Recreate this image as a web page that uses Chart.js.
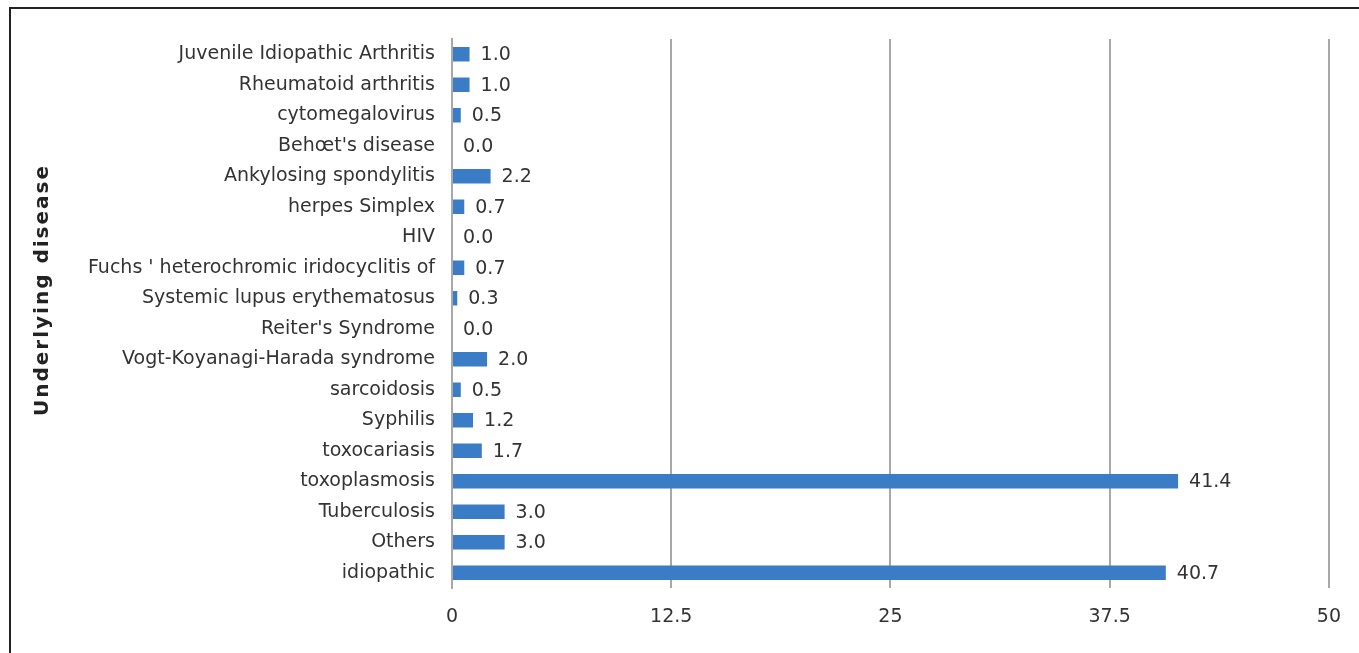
<!DOCTYPE html>
<html>
<head>
<meta charset="utf-8">
<script src="https://cdn.jsdelivr.net/npm/chart.js@4/dist/chart.umd.min.js"></script>
<style>
  html, body { margin: 0; padding: 0; background: #fff; }
  .frame {
    position: absolute; left: 9px; top: 7px; width: 1350px; height: 646px;
    border-top: 2px solid #222; border-left: 2px solid #222;
  }
  .chartbox { position: absolute; left: 0; top: 0; width: 1359px; height: 653px; }
</style>
</head>
<body>
<div class="frame"></div>
<div class="chartbox"><canvas id="myChart" width="1359" height="653"></canvas></div>
<script>
const labels = [
  "Juvenile Idiopathic Arthritis",
  "Rheumatoid arthritis",
  "cytomegalovirus",
  "Behœt's disease",
  "Ankylosing spondylitis",
  "herpes Simplex",
  "HIV",
  "Fuchs ' heterochromic iridocyclitis of",
  "Systemic lupus erythematosus",
  "Reiter's Syndrome",
  "Vogt-Koyanagi-Harada syndrome",
  "sarcoidosis",
  "Syphilis",
  "toxocariasis",
  "toxoplasmosis",
  "Tuberculosis",
  "Others",
  "idiopathic",
];
const values = [1.0, 1.0, 0.5, 0.0, 2.2, 0.7, 0.0, 0.7, 0.3, 0.0, 2.0, 0.5, 1.2, 1.7, 41.4, 3.0, 3.0, 40.7];
const xTicks = [0, 12.5, 25, 37.5, 50];

const fontFamily = "'DejaVu Sans', sans-serif";
const fontSize = 19;

// value labels to the right of each bar + spaced out axis title
const extras = {
  id: "extras",
  afterDatasetsDraw(chart) {
    const ctx = chart.ctx;
    const meta = chart.getDatasetMeta(0);
    ctx.save();
    ctx.font = fontSize + "px " + fontFamily;
    ctx.fillStyle = "#333";
    ctx.textAlign = "left";
    ctx.textBaseline = "middle";
    meta.data.forEach((bar, i) => {
      ctx.fillText(values[i].toFixed(1), bar.x + 11, bar.y + 1);
    });
    ctx.restore();

    ctx.save();
    ctx.translate(43, 290);
    ctx.rotate(-Math.PI / 2);
    ctx.font = "bold 20px " + fontFamily;
    ctx.letterSpacing = "2px";
    ctx.fillStyle = "#222";
    ctx.textAlign = "center";
    ctx.textBaseline = "middle";
    ctx.fillText("Underlying disease", 0, 0);
    ctx.restore();
  },
};

new Chart(document.getElementById("myChart"), {
  type: "bar",
  data: {
    labels: labels,
    datasets: [
      {
        data: values,
        backgroundColor: "#3a7cc6",
        borderWidth: 0,
        barPercentage: 0.5,
        categoryPercentage: 0.95,
      },
    ],
  },
  options: {
    indexAxis: "y",
    responsive: false,
    animation: false,
    layout: { padding: { left: 22, right: 26, top: 39, bottom: 0 } },
    plugins: {
      legend: { display: false },
      tooltip: { enabled: false },
    },
    scales: {
      x: {
        min: 0,
        max: 50,
        afterBuildTicks(scale) {
          scale.ticks = xTicks.map((v) => ({ value: v }));
        },
        afterFit(scale) {
          scale.height = 65;
        },
        grid: { color: "#a8a8a8", lineWidth: 2, drawTicks: false },
        border: { display: false },
        ticks: {
          color: "#333",
          padding: 18,
          font: { family: fontFamily, size: fontSize },
          callback: (v) => String(v),
        },
      },
      y: {
        afterFit(scale) {
          scale.width = 452 - 22;
        },
        grid: { display: false, drawTicks: false },
        border: { display: true, color: "#a8a8a8", width: 2 },
        ticks: {
          color: "#333",
          padding: 17,
          autoSkip: false,
          font: { family: fontFamily, size: fontSize },
        },
      },
    },
  },
  plugins: [extras],
});
</script>
</body>
</html>
